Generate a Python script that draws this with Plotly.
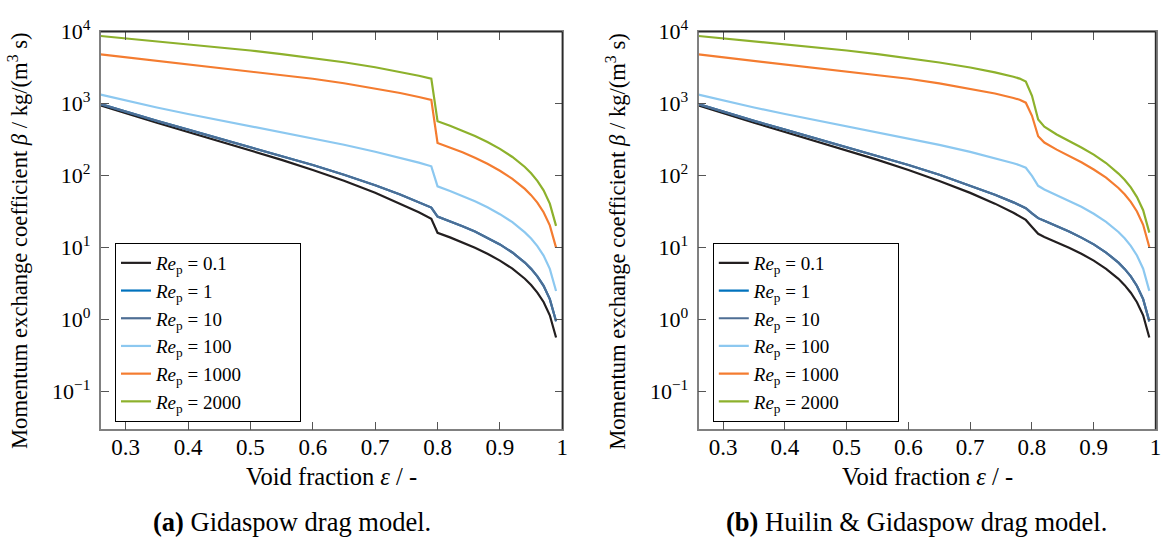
import plotly.graph_objects as go

# ---------------- data ----------------
re_labels = ["0.1", "1", "10", "100", "1000", "2000"]
colors = ["#231f20", "#0072bd", "#4e6e94", "#8cc8f0", "#f47c30", "#8db12c"]

# (a) Gidaspow drag model
eps_a = [0.26, 0.30, 0.35, 0.40, 0.45, 0.50, 0.55, 0.60, 0.65, 0.70, 0.74, 0.77, 0.79,
         0.80, 0.82, 0.84, 0.86, 0.88, 0.90, 0.92, 0.94, 0.95, 0.96, 0.97, 0.98, 0.99]
beta_a_re0_1 = [948, 735, 544, 405, 303, 225, 166, 120, 85.0, 58.0, 41.2, 31.1, 25.2,
                16.1, 13.9, 11.9, 9.99, 8.25, 6.62, 5.11, 3.70, 3.03, 2.38, 1.76, 1.15, 0.566]
# the Re_p = 1 curve is hidden under the Re_p = 10 curve in the reference
beta_a_re1 = [987, 772, 577, 437, 331, 251, 189, 141, 103, 73.6, 54.8, 43.0, 36.1,
              27.0, 23.3, 19.9, 16.8, 13.8, 11.1, 8.57, 6.21, 5.08, 4.00, 2.95, 1.93, 0.949]
beta_a_re10 = [987, 772, 577, 437, 331, 251, 189, 141, 103, 73.6, 54.8, 43.0, 36.1,
               27.0, 23.3, 19.9, 16.8, 13.8, 11.1, 8.57, 6.21, 5.08, 4.00, 2.95, 1.93, 0.949]
beta_a_re100 = [1336, 1103, 885, 720, 591, 488, 402, 330, 269, 215, 178, 152, 135,
                71.0, 61.3, 52.4, 44.1, 36.4, 29.2, 22.6, 16.3, 13.4, 10.5, 7.75, 5.08, 2.50]
beta_a_re1000 = [4833, 4410, 3956, 3555, 3190, 2850, 2528, 2220, 1922, 1633, 1406, 1238, 1128,
                 285, 246, 211, 177, 146, 117, 90.6, 65.6, 53.7, 42.2, 31.1, 20.4, 10.0]
beta_a_re2000 = [8718, 8085, 7368, 6705, 6077, 5475, 4891, 4320, 3760, 3208, 2771, 2446, 2230,
                 572, 495, 422, 356, 293, 236, 182, 132, 108, 84.7, 62.5, 40.9, 20.1]

# (b) Huilin & Gidaspow drag model
eps_b = [0.26, 0.30, 0.35, 0.40, 0.45, 0.50, 0.55, 0.60, 0.65, 0.70, 0.74, 0.77, 0.78, 0.79,
         0.80, 0.81, 0.82, 0.84, 0.86, 0.88, 0.90, 0.92, 0.94, 0.95, 0.96, 0.97, 0.98, 0.99]
beta_b_re0_1 = [948, 735, 544, 405, 303, 225, 166, 120, 84.6, 57.7, 40.9, 30.6, 27.5, 24.3,
                19.4, 15.6, 14.1, 11.9, 10.0, 8.24, 6.60, 5.09, 3.69, 3.02, 2.37, 1.75, 1.15, 0.564]
beta_b_re1 = [987, 772, 577, 437, 331, 251, 189, 141, 103, 73.2, 54.5, 42.6, 39.0, 35.3,
              30.0, 25.7, 23.6, 20.0, 16.8, 13.8, 11.1, 8.56, 6.20, 5.07, 3.99, 2.94, 1.93, 0.947]
beta_b_re10 = [987, 772, 577, 437, 331, 251, 189, 141, 103, 73.2, 54.5, 42.6, 39.0, 35.3,
               30.0, 25.7, 23.6, 20.0, 16.8, 13.8, 11.1, 8.56, 6.20, 5.07, 3.99, 2.94, 1.93, 0.947]
beta_b_re100 = [1336, 1103, 885, 720, 591, 488, 402, 330, 268, 214, 176, 149, 140, 129,
                99.2, 72.3, 64.4, 53.8, 44.9, 36.9, 29.6, 22.8, 16.5, 13.5, 10.6, 7.80, 5.11, 2.51]
beta_b_re1000 = [4833, 4410, 3956, 3555, 3190, 2850, 2528, 2220, 1912, 1620, 1386, 1202, 1132, 1033,
                 679, 353, 289, 230, 189, 154, 122, 93.9, 67.5, 55.1, 43.3, 31.8, 20.8, 10.2]
beta_b_re2000 = [8722, 8085, 7368, 6705, 6077, 5475, 4891, 4320, 3738, 3179, 2728, 2370, 2229, 2027,
                 1286, 603, 479, 373, 304, 246, 196, 150, 107, 87.6, 68.7, 50.5, 33.1, 16.2]

x_tickvals = [0.3, 0.4, 0.5, 0.6, 0.7, 0.8, 0.9, 1.0]
x_ticktext = ["0.3", "0.4", "0.5", "0.6", "0.7", "0.8", "0.9", "1"]
y_tickvals = [0.1, 1, 10, 100, 1000, 10000]
y_ticktext = ["10<sup>\u22121</sup>", "10<sup>0</sup>", "10<sup>1</sup>",
              "10<sup>2</sup>", "10<sup>3</sup>", "10<sup>4</sup>"]

x_title = "Void fraction <i>\u03b5</i> / -"
y_title = "Momentum exchange coefficient <i>\u03b2</i> / kg/(m<sup>3</sup> s)"
caption_a = "<b>(a)</b> Gidaspow drag model."
caption_b = "<b>(b)</b> Huilin &amp; Gidaspow drag model."

series_a = [beta_a_re0_1, beta_a_re1, beta_a_re10, beta_a_re100, beta_a_re1000, beta_a_re2000]
series_b = [beta_b_re0_1, beta_b_re1, beta_b_re10, beta_b_re100, beta_b_re1000, beta_b_re2000]

# ---------------- figure ----------------
W, H = 1162, 547
FONT = "Liberation Serif, DejaVu Serif, serif"
FS = 22
PAD = "\u00a0" * 11   # widens the legend box to the reference size


def legend_name(lab):
    return "<i>Re</i><sub>p</sub> = " + lab + PAD


fig = go.Figure()
for lab, col, ya in zip(re_labels, colors, series_a):
    fig.add_trace(go.Scatter(x=eps_a, y=ya, mode="lines", xaxis="x", yaxis="y",
                             line=dict(color=col, width=2.2),
                             name=legend_name(lab), legend="legend"))
for lab, col, yb in zip(re_labels, colors, series_b):
    fig.add_trace(go.Scatter(x=eps_b, y=yb, mode="lines", xaxis="x2", yaxis="y2",
                             line=dict(color=col, width=2.2),
                             name=legend_name(lab), legend="legend2"))

def px_x(p):
    return p / W

def px_y(p):
    return 1 - p / H

top, bot = 31.7, 429.3
a_l, a_r = 100.7, 562.3
b_l, b_r = 698.5, 1155.5
ydom = [px_y(bot), px_y(top)]

common_x = dict(range=[0.26, 1.0], tickvals=x_tickvals, ticktext=x_ticktext,
                ticks="inside", ticklen=8, tickwidth=1.2, tickcolor="#555555",
                showline=True, linecolor="#808080", linewidth=1.6, mirror="ticks",
                showgrid=False, zeroline=False, automargin=False,
                ticklabeloverflow="allow", ticklabelstandoff=-4,
                tickfont=dict(family=FONT, size=23, color="black"))
common_y = dict(type="log", range=[-1.5229, 4.0], tickvals=y_tickvals, ticktext=y_ticktext,
                ticks="inside", ticklen=8, tickwidth=1.2, tickcolor="#555555",
                showline=True, linecolor="#808080", linewidth=1.6, mirror="ticks",
                showgrid=False, zeroline=False, ticklabelstandoff=4, automargin=False,
                ticklabeloverflow="allow",
                tickfont=dict(family=FONT, size=FS, color="black"))

legend_common = dict(bgcolor="white", bordercolor="black", borderwidth=1,
                     font=dict(family=FONT, size=19, color="black"),
                     xanchor="left", yanchor="top", tracegroupgap=0,
                     itemclick=False, itemdoubleclick=False)

fig.update_layout(
    width=W, height=H, margin=dict(l=0, r=0, t=0, b=0, autoexpand=False),
    paper_bgcolor="white", plot_bgcolor="white",
    font=dict(family=FONT, size=FS, color="black"),
    xaxis=dict(domain=[px_x(a_l), px_x(a_r)], anchor="y", **common_x),
    yaxis=dict(domain=ydom, anchor="x", **common_y),
    xaxis2=dict(domain=[px_x(b_l), px_x(b_r)], anchor="y2", **common_x),
    yaxis2=dict(domain=ydom, anchor="x2", **common_y),
    legend=dict(x=px_x(115), y=px_y(243), **legend_common),
    legend2=dict(x=px_x(b_l + 14.3), y=px_y(243), **legend_common),
    showlegend=True,
)

# darker top/right frame lines
for xr, yr in (("x domain", "y domain"), ("x2 domain", "y2 domain")):
    fig.add_shape(type="line", xref=xr, yref=yr, x0=0, x1=1, y0=1, y1=1,
                  line=dict(color="#2a2a2a", width=1.4))
    fig.add_shape(type="line", xref=xr, yref=yr, x0=1, x1=1, y0=0, y1=1,
                  line=dict(color="#2a2a2a", width=1.4))

annots = []
for cx in ((a_l + a_r) / 2, (b_l + b_r) / 2):
    annots.append(dict(text=x_title, x=px_x(cx), y=px_y(476), xref="paper", yref="paper",
                       showarrow=False, xanchor="center", yanchor="middle",
                       font=dict(family=FONT, size=24.5, color="black")))
for cx in (18, 18 + (b_l - a_l)):
    annots.append(dict(text=y_title, x=px_x(cx), y=px_y(241), xref="paper", yref="paper",
                       showarrow=False, xanchor="center", yanchor="middle", textangle=-90,
                       font=dict(family=FONT, size=22.6, color="black")))
annots.append(dict(text=caption_a, x=px_x(292), y=px_y(522), xref="paper", yref="paper",
                   showarrow=False, xanchor="center", yanchor="middle",
                   font=dict(family=FONT, size=26.5, color="black")))
annots.append(dict(text=caption_b, x=px_x(916), y=px_y(522), xref="paper", yref="paper",
                   showarrow=False, xanchor="center", yanchor="middle",
                   font=dict(family=FONT, size=26.5, color="black")))
fig.update_layout(annotations=annots)

fig.write_html(
    "out.html",
    config={"displayModeBar": False},
    post_script="document.body.style.margin='0';document.body.style.overflow='hidden';",
)
